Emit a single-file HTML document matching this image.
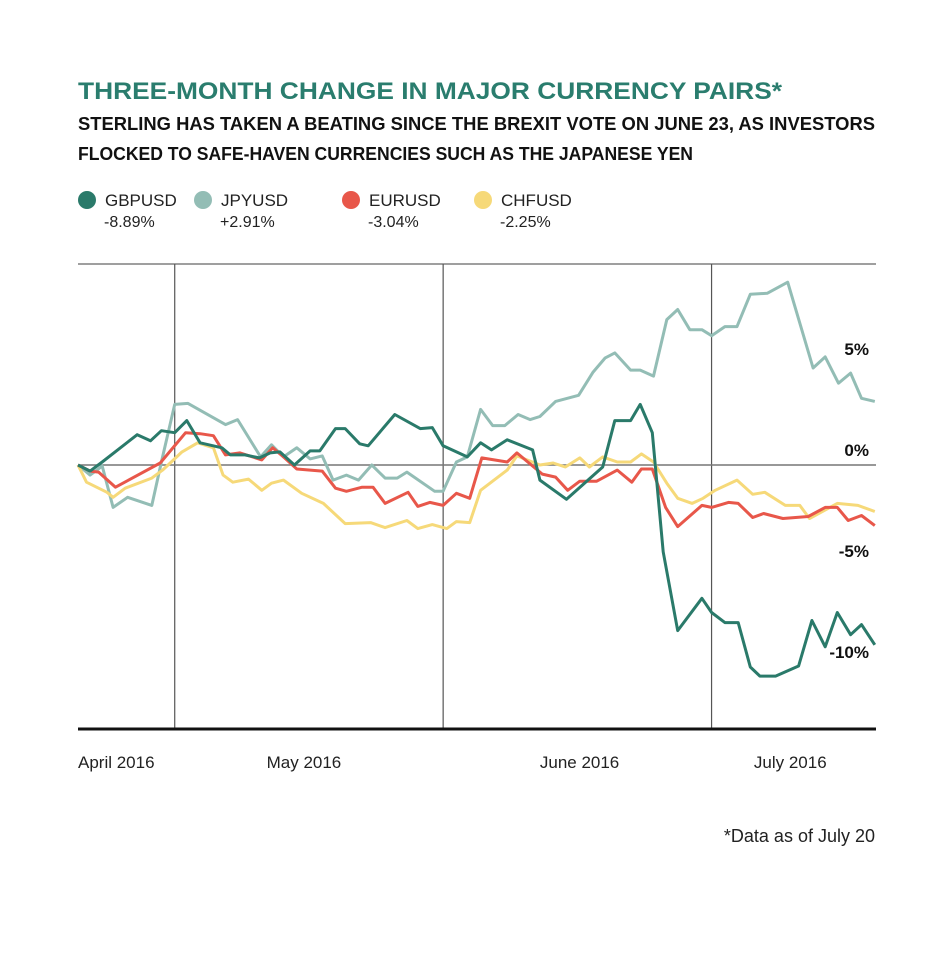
<!DOCTYPE html>
<html><head><meta charset="utf-8"><style>
body{margin:0;background:#fff}
svg{display:block;font-family:"Liberation Sans",sans-serif}
</style></head><body>
<svg id="chart" width="945" height="954" viewBox="0 0 945 954">
<text x="78" y="99" font-size="24" font-weight="bold" fill="#2a7d6e" textLength="704" lengthAdjust="spacingAndGlyphs">THREE-MONTH CHANGE IN MAJOR CURRENCY PAIRS*</text>
<text x="78" y="130" font-size="18" font-weight="bold" fill="#111" textLength="797" lengthAdjust="spacingAndGlyphs">STERLING HAS TAKEN A BEATING SINCE THE BREXIT VOTE ON JUNE 23, AS INVESTORS</text>
<text x="78" y="160" font-size="18" font-weight="bold" fill="#111" textLength="615" lengthAdjust="spacingAndGlyphs">FLOCKED TO SAFE-HAVEN CURRENCIES SUCH AS THE JAPANESE YEN</text>
<g id="legend"></g>
<g id="grid"></g>
<g id="lines"></g>
<g id="labels"></g>
<text x="875" y="842" font-size="18" fill="#222" text-anchor="end">*Data as of July 20</text>
</svg>
<script>
const seriesNames=["GBPUSD","JPYUSD","EURUSD","CHFUSD"];
const seriesChanges=["-8.89%","+2.91%","-3.04%","-2.25%"];
const seriesColors=["#2a7a6a","#93bdb5","#e8574a","#f6d979"];
const gbpDays=[0,1,2,4.9,6,6.9,8,9,10.1,11.9,12.6,13.8,15,15.9,16.7,17.9,19.2,20,21.3,22.1,23.3,24,26.2,28.3,29.3,30.2,32.2,33.3,34.2,35.5,37.6,38.2,40.4,43.4,44.4,45.7,46.5,47.5,48.4,49.6,51.6,52.4,53.5,54.6,55.6,56.4,57.7,59.6,60.7,61.8,62.8,63.9,64.8,65.9];
const gbpValues=[0,-0.3,0.15,1.5,1.2,1.7,1.6,2.2,1.1,0.85,0.5,0.5,0.35,0.6,0.65,0,0.7,0.7,1.8,1.8,1.05,0.95,2.5,1.8,1.85,0.95,0.4,1.1,0.75,1.25,0.75,-0.75,-1.7,-0.1,2.2,2.2,3.0,1.6,-4.3,-8.2,-6.6,-7.3,-7.8,-7.8,-10.0,-10.45,-10.45,-9.95,-7.7,-9.0,-7.3,-8.4,-7.9,-8.9];
const jpyDays=[0,1,2,2.9,4.1,6.1,6.9,8,9.1,12.2,13.2,15.1,16,17,18.1,19.2,20.2,21.1,22.2,23.2,24.3,25.4,26.4,27.2,29.5,30.2,31.3,32.2,33.3,34.3,35.3,36.4,37.4,38.2,39.5,41.4,42.6,43.6,44.4,45.7,46.5,47.6,48.7,49.6,50.6,51.6,52.4,53.5,54.5,55.6,57,58.7,60.8,61.8,62.9,63.9,64.8,65.9];
const jpyValues=[0,-0.5,-0.05,-2.1,-1.6,-2.0,0.15,3.0,3.05,2.0,2.25,0.4,1.0,0.4,0.85,0.3,0.45,-0.75,-0.5,-0.75,0,-0.65,-0.65,-0.35,-1.3,-1.3,0.15,0.4,2.75,1.95,1.95,2.5,2.25,2.4,3.15,3.45,4.6,5.3,5.55,4.7,4.7,4.4,7.2,7.7,6.7,6.7,6.4,6.85,6.85,8.45,8.5,9.05,4.8,5.35,4.05,4.55,3.3,3.15];
const eurDays=[0,1,1.7,3.1,6.8,8.9,10.1,11.2,12.2,13.4,15.2,16.1,17,18.1,20.2,21.3,22.2,23.5,24.4,25.4,27.3,28.1,29.1,30.2,31.3,32.4,33.4,35.5,36.3,38.4,39.5,40.5,41.5,42.9,44.6,45.8,46.6,47.5,48.6,49.6,51.6,52.4,53.8,54.6,55.8,56.7,58.3,60.4,61.8,62.8,63.7,64.8,65.9];
const eurValues=[0,-0.3,-0.35,-1.1,0.1,1.6,1.55,1.45,0.5,0.6,0.25,0.85,0.4,-0.2,-0.3,-1.15,-1.3,-1.1,-1.1,-1.9,-1.35,-2.05,-1.85,-2.0,-1.4,-1.65,0.35,0.15,0.6,-0.45,-0.6,-1.25,-0.8,-0.8,-0.25,-0.85,-0.2,-0.2,-2.1,-3.05,-2.0,-2.1,-1.85,-1.9,-2.6,-2.4,-2.65,-2.55,-2.1,-2.1,-2.75,-2.5,-3.0];
const chfDays=[0,0.7,2.4,2.9,3.9,6.1,7,8.6,9.9,11.2,12,12.8,14.1,15.2,16,17,18.5,20.3,22.1,24.2,25.4,27.2,28.1,29.3,30.5,31.3,32.4,33.3,35.5,36.3,38.2,39.3,40.3,41.5,42.3,43.4,44.6,45.7,46.6,47.6,48.7,49.6,50.8,51.7,52.7,54.5,55.8,56.8,58.5,59.7,60.5,62.8,64.5,65.9];
const chfValues=[0,-0.85,-1.35,-1.6,-1.15,-0.65,-0.25,0.65,1.1,0.85,-0.5,-0.85,-0.7,-1.25,-0.9,-0.75,-1.4,-1.9,-2.9,-2.85,-3.1,-2.75,-3.15,-2.95,-3.15,-2.8,-2.85,-1.25,-0.25,0.45,0,0.1,-0.1,0.35,-0.1,0.4,0.15,0.15,0.55,0.15,-0.9,-1.65,-1.9,-1.65,-1.25,-0.75,-1.45,-1.35,-2.0,-2.0,-2.65,-1.9,-2.0,-2.3];
const monthLabels=["April 2016","May 2016","June 2016","July 2016"];
const monthLabelDays=[0,15.6,38.2,55.9];
const gridDays=[8,30.2,52.4];
const yTickValues=[5,0,-5,-10];
const yTickLabels=["5%","0%","-5%","-10%"];

const NS="http://www.w3.org/2000/svg";
const X0=78,X1=876,DMAX=66,Y0=465,PPV=20.2;
const xs=d=>X0+d*(X1-X0)/DMAX;
const ys=v=>Y0-v*PPV;
function mk(tag,attrs,parent){const e=document.createElementNS(NS,tag);for(const k in attrs)e.setAttribute(k,attrs[k]);parent.appendChild(e);return e;}

const grid=document.getElementById('grid');
let l=mk('line',{x1:X0,x2:X1,y1:264,y2:264,stroke:'#666','stroke-width':1.2},grid);


gridDays.forEach(d=>{const v=mk('line',{x1:xs(d),x2:xs(d),y1:264,y2:729,stroke:'#555','stroke-width':1.2},grid);

});
l=mk('line',{x1:X0,x2:X1,y1:ys(0),y2:ys(0),stroke:'#777','stroke-width':1.6},grid);


l=mk('line',{x1:X0,x2:X1,y1:729,y2:729,stroke:'#111','stroke-width':3},grid);



const lines=document.getElementById('lines');
const all=[[gbpDays,gbpValues],[jpyDays,jpyValues],[eurDays,eurValues],[chfDays,chfValues]];
[1,3,2,0].forEach(i=>{
  const [ds,vs]=all[i];
  const pts=ds.map((d,j)=>xs(d).toFixed(1)+','+ys(vs[j]).toFixed(1)).join(' ');
  const p=mk('polyline',{points:pts,fill:'none',stroke:seriesColors[i],'stroke-width':3,'stroke-linejoin':'round'},lines);
  
  
});

const labels=document.getElementById('labels');
yTickValues.forEach((v,i)=>{const t=mk('text',{x:869,y:ys(v)-9,'font-size':17,'font-weight':'bold','text-anchor':'end',fill:'#111'},labels);t.textContent=yTickLabels[i];

});
monthLabels.forEach((m,i)=>{const t=mk('text',{x:xs(monthLabelDays[i]),y:768,'font-size':17,fill:'#222'},labels);t.textContent=m;

});

const legend=document.getElementById('legend');
const legX=[87,203,351,483];
seriesNames.forEach((n,i)=>{
  const g=mk('g',{},legend);
  
  
  mk('circle',{cx:legX[i],cy:200,r:9,fill:seriesColors[i]},g);
  const t=mk('text',{x:legX[i]+18,y:206,'font-size':17,fill:'#222'},g);t.textContent=n;
  const t2=mk('text',{x:legX[i]+17,y:227,'font-size':16,fill:'#222'},g);t2.textContent=seriesChanges[i];
});
</script>
</body></html>
